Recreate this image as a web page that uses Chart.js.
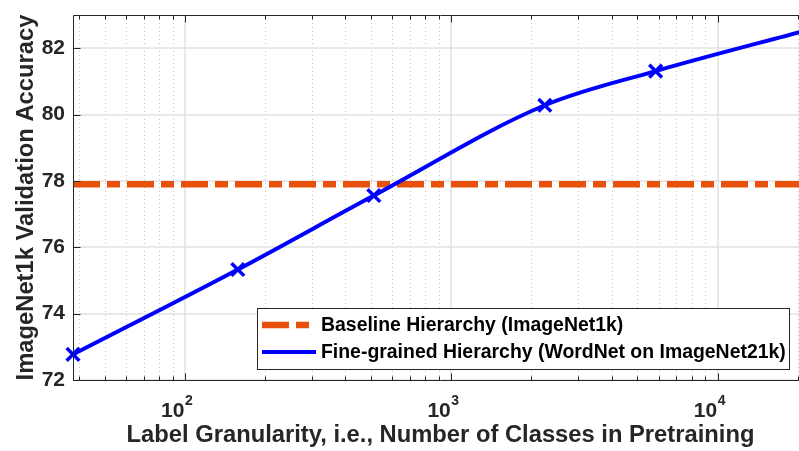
<!DOCTYPE html>
<html>
<head>
<meta charset="utf-8">
<script src="https://cdn.jsdelivr.net/npm/chart.js@4.4.0/dist/chart.umd.min.js"></script>
<style>
html, body { margin: 0; padding: 0; background: #fff; overflow: hidden; }
/* the plot runs a few pixels past the right edge of the window, as in the figure */
#wrap { width: 808px; height: 451px; }
</style>
</head>
<body>
<div id="wrap"><canvas id="myChart"></canvas></div>
<script>
// data
const classes = [38, 158, 512, 2245, 5850, 21841];
const accuracy = [72.77, 75.33, 77.56, 80.28, 81.31, 82.55];
const baselineAcc = 77.9;

// axes
const xRange = [38, 21841];
const yRange = [72, 83];
const yTicks = [72, 74, 76, 78, 80, 82];
const xMajor = [100, 1000, 10000];
const xMajorExp = ['2', '3', '4'];
const xMinor = [40, 50, 60, 70, 80, 90, 200, 300, 400, 500, 600, 700, 800, 900,
    2000, 3000, 4000, 5000, 6000, 7000, 8000, 9000, 20000];

const FONT = '"Liberation Sans", Arial, Helvetica, sans-serif';
const ORANGE = '#e8510c';
const BLUE = '#0000ff';
const INK = '#262626';

const meas = document.createElement('canvas').getContext('2d');
function fitSize(text, width) {
    meas.font = 'bold 100px ' + FONT;
    return 100 * width / meas.measureText(text).width;
}

const xTitle = 'Label Granularity, i.e., Number of Classes in Pretraining';
const yTitle = 'ImageNet1k Validation Accuracy';

const axesPlugin = {
    id: 'matlabAxes',
    beforeDatasetsDraw(chart) {
        const {ctx, chartArea: a, scales: {x, y}} = chart;
        ctx.save();
        ctx.lineWidth = 1;
        ctx.strokeStyle = '#c4c4c4';
        ctx.setLineDash([1, 3]);
        xMinor.forEach(v => {
            const px = Math.round(x.getPixelForValue(v)) + 0.5;
            ctx.beginPath(); ctx.moveTo(px, a.top); ctx.lineTo(px, a.bottom); ctx.stroke();
        });
        ctx.setLineDash([]);
        ctx.strokeStyle = '#e2e2e2';
        ctx.lineWidth = 1.5;
        xMajor.forEach(v => {
            const px = Math.round(x.getPixelForValue(v));
            ctx.beginPath(); ctx.moveTo(px, a.top); ctx.lineTo(px, a.bottom); ctx.stroke();
        });
        yTicks.forEach(v => {
            const py = Math.round(y.getPixelForValue(v));
            ctx.beginPath(); ctx.moveTo(a.left, py); ctx.lineTo(a.right, py); ctx.stroke();
        });
        ctx.restore();
    },
    afterDatasetsDraw(chart) {
        const {ctx, chartArea: a, scales: {x, y}} = chart;
        ctx.save();
        ctx.strokeStyle = INK;
        ctx.lineWidth = 1;
        const l = Math.round(a.left) + 0.5, t = Math.round(a.top) + 0.5, b = Math.round(a.bottom) + 0.5;
        const r = Math.round(a.right) - 0.5;
        ctx.beginPath();
        ctx.moveTo(r, t); ctx.lineTo(l, t); ctx.lineTo(l, b); ctx.lineTo(r, b); ctx.lineTo(r, t);
        ctx.stroke();
        const tick = (vals, len) => vals.forEach(v => {
            const px = Math.round(x.getPixelForValue(v)) + 0.5;
            ctx.beginPath();
            ctx.moveTo(px, b); ctx.lineTo(px, b - len);
            ctx.moveTo(px, t); ctx.lineTo(px, t + len);
            ctx.stroke();
        });
        tick(xMinor, 4);
        tick(xMajor, 7);
        yTicks.forEach(v => {
            const py = Math.round(y.getPixelForValue(v)) + 0.5;
            ctx.beginPath(); ctx.moveTo(l, py); ctx.lineTo(l + 7, py); ctx.stroke();
        });

        // x tick labels 10^n
        ctx.fillStyle = INK;
        ctx.textBaseline = 'alphabetic';
        ctx.textAlign = 'left';
        xMajor.forEach((v, i) => {
            const px = x.getPixelForValue(v);
            ctx.font = 'bold 21px ' + FONT;
            const w1 = ctx.measureText('10').width;
            const s = px - w1 - 0.5;
            ctx.fillText('10', s, 417);
            ctx.font = 'bold 14px ' + FONT;
            ctx.fillText(xMajorExp[i], s + w1 + 0.5, 405);
        });
        ctx.restore();
    },
    afterDraw(chart) {
        // legend box
        const {ctx} = chart;
        const ds = chart.data.datasets;
        const bx = 257.5, by = 308.5, bw = 532, bh = 61;
        ctx.save();
        ctx.fillStyle = '#fff';
        ctx.fillRect(bx, by, bw, bh);
        ctx.strokeStyle = INK;
        ctx.lineWidth = 1;
        ctx.strokeRect(bx, by, bw, bh);
        const rows = [ds[1], ds[0]];
        const ys = [325, 352];
        rows.forEach((d, i) => {
            ctx.strokeStyle = d.borderColor;
            ctx.lineWidth = d.borderWidth;
            ctx.lineCap = 'butt';
            ctx.setLineDash(d.borderDash || []);
            ctx.beginPath(); ctx.moveTo(262, ys[i]); ctx.lineTo(316, ys[i]); ctx.stroke();
        });
        ctx.setLineDash([]);
        ctx.fillStyle = '#000';
        ctx.textBaseline = 'middle';
        const fs = fitSize(ds[0].label, 465);
        ctx.font = 'bold ' + fs.toFixed(2) + 'px ' + FONT;
        rows.forEach((d, i) => ctx.fillText(d.label, 321, ys[i] + 1));
        ctx.restore();
    }
};

const ctx = document.getElementById('myChart').getContext('2d');

const myChart = new Chart(ctx, {
    type: 'line',
    data: {
        datasets: [{
            label: 'Fine-grained Hierarchy (WordNet on ImageNet21k)',
            data: classes.map((c, i) => ({x: c, y: accuracy[i]})),
            borderColor: BLUE,
            borderWidth: 4,
            cubicInterpolationMode: 'monotone',
            pointStyle: 'crossRot',
            pointRadius: 9,
            pointBorderWidth: 3.5,
            pointBorderColor: BLUE,
            pointBackgroundColor: BLUE,
            clip: false,
            order: 0
        }, {
            label: 'Baseline Hierarchy (ImageNet1k)',
            data: xRange.map(c => ({x: c, y: baselineAcc})),
            borderColor: ORANGE,
            borderWidth: 6.5,
            borderDash: [27, 7, 13, 7],
            borderCapStyle: 'butt',
            pointRadius: 0,
            order: 1
        }]
    },
    options: {
        responsive: true,
        maintainAspectRatio: false,
        animation: false,
        events: [],
        layout: {autoPadding: false, padding: {top: 15, left: 0, right: 0, bottom: 0}},
        plugins: {
            legend: {display: false},
            tooltip: {enabled: false}
        },
        scales: {
            x: {
                type: 'logarithmic',
                min: xRange[0],
                max: xRange[1],
                grid: {display: false},
                border: {display: false},
                ticks: {display: false},
                title: {
                    display: true,
                    text: xTitle,
                    color: INK,
                    font: {family: FONT, weight: 'bold', size: fitSize(xTitle, 628)},
                    padding: {top: 4, bottom: 1}
                },
                afterFit: s => {
                    s.height = 71;
                    s.paddingLeft = 0; s.paddingRight = 0;
                }
            },
            y: {
                min: yRange[0],
                max: yRange[1],
                afterBuildTicks: s => { s.ticks = yTicks.map(v => ({value: v})); },
                grid: {display: false, drawTicks: false},
                border: {display: false},
                ticks: {
                    color: INK,
                    padding: 8,
                    font: {family: FONT, weight: 'bold', size: 21}
                },
                title: {
                    display: true,
                    text: yTitle,
                    color: INK,
                    font: {family: FONT, weight: 'bold', size: fitSize(yTitle, 366)},
                    padding: {top: 12, bottom: 0}
                },
                afterFit: s => {
                    s.width = 73;
                    s.paddingTop = 0; s.paddingBottom = 0;
                }
            }
        }
    },
    plugins: [axesPlugin]
});
</script>
</body>
</html>
